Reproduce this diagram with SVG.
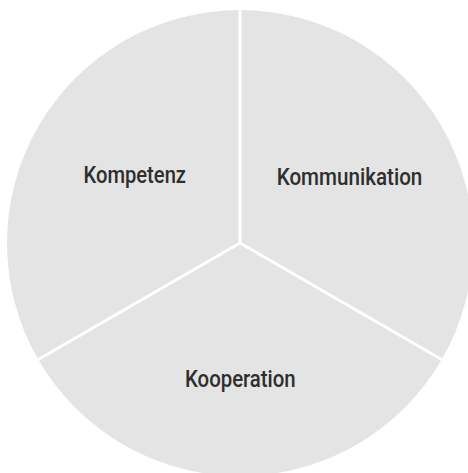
<svg xmlns="http://www.w3.org/2000/svg" width="468" height="473" viewBox="0 0 468 473">
  <style>
    .sector { fill: #e4e4e4; stroke: none; }
    .sep { stroke: #ffffff; stroke-width: 3; stroke-linecap: butt; fill: none; }
    .label { font-family: Roboto, "Liberation Sans", Arial, sans-serif; font-weight: 500; font-size: 24px; fill: #2e2e2e; text-anchor: start; }
  </style>
  <rect width="468" height="473" fill="#ffffff"/>
  <!-- three equal sectors around centre (240,243), radius 233 -->
  <g id="kompetenz">
    <path class="sector" d="M240,243 L240,10 A233,233 0 0 0 38.22,359.5 Z"/>
    <text class="label" x="83.5" y="183.3" textLength="102.5" lengthAdjust="spacingAndGlyphs">Kompetenz</text>
  </g>
  <g id="kommunikation">
    <path class="sector" d="M240,243 L240,10 A233,233 0 0 1 441.78,359.5 Z"/>
    <text class="label" x="276.7" y="185" textLength="145.6" lengthAdjust="spacingAndGlyphs">Kommunikation</text>
  </g>
  <g id="kooperation">
    <path class="sector" d="M240,243 L441.78,359.5 A233,233 0 0 1 38.22,359.5 Z"/>
    <text class="label" x="185" y="386.7" textLength="110.7" lengthAdjust="spacingAndGlyphs">Kooperation</text>
  </g>
  <!-- white dividers between the sectors -->
  <g id="connectors">
    <line class="sep" x1="240" y1="243" x2="240" y2="6"/>
    <line class="sep" x1="240" y1="243" x2="34.8" y2="361.5"/>
    <line class="sep" x1="240" y1="243" x2="445.2" y2="361.5"/>
  </g>
</svg>
